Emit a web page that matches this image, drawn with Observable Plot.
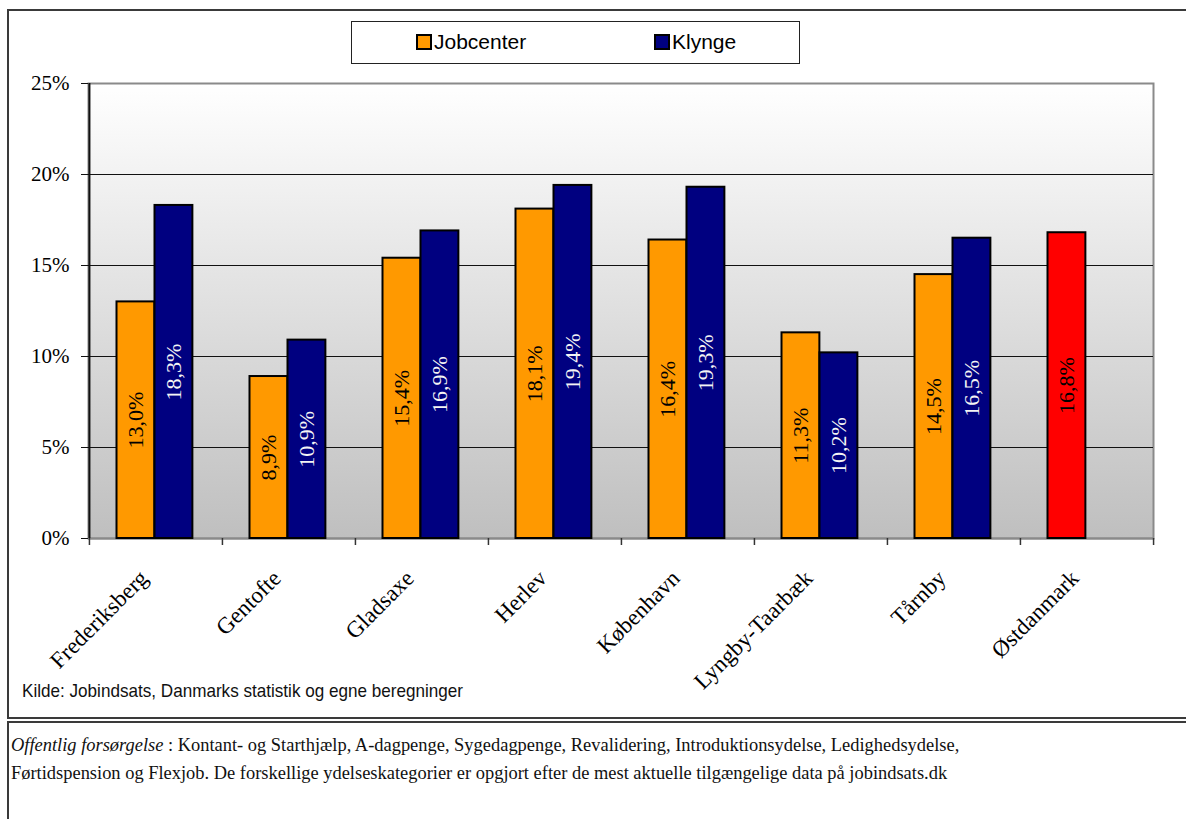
<!DOCTYPE html>
<html>
<head>
<meta charset="utf-8">
<script src="https://cdn.jsdelivr.net/npm/d3@7"></script>
<script src="https://cdn.jsdelivr.net/npm/@observablehq/plot@0.6"></script>
<style>
  html, body { margin: 0; padding: 0; background: #fff; }
  body { width: 1186px; height: 819px; position: relative; overflow: hidden; }
  #box1 { position: absolute; left: 7px; top: 9px; width: 1200px; height: 706px; border: 2px solid #3a3a3a; box-sizing: content-box; }
  #box2 { position: absolute; left: 7px; top: 721px; width: 1200px; height: 120px; border-top: 2px solid #3a3a3a; border-left: 2px solid #3a3a3a; }
  #chart { position: absolute; left: 0; top: 0; }
  #legend { position: absolute; left: 351px; top: 21px; width: 447px; height: 41px; border: 1px solid #222; background: #fff; font-family: "Liberation Sans", Arial, sans-serif; font-size: 21px; color: #000; }
  .item { position: absolute; top: 8px; display: flex; align-items: center; }
  .sw { width: 12px; height: 12px; border: 2px solid #000; margin-right: 2px; }
  #source { position: absolute; left: 22px; top: 680px; font-family: "Liberation Sans", Arial, sans-serif; font-size: 19px; color: #111; transform: scaleX(0.9); transform-origin: 0 0; white-space: nowrap; }
  #note { position: absolute; left: 11px; top: 731px; font-family: "Liberation Serif", "Times New Roman", serif; font-size: 19px; line-height: 28px; color: #111; white-space: nowrap; transform: scaleX(0.97); transform-origin: 0 0; }
</style>
</head>
<body>
<div id="box1"></div>
<div id="box2"></div>
<div id="chart"></div>
<div id="legend"></div>
<div id="source">Kilde: Jobindsats, Danmarks statistik og egne beregninger</div>
<div id="note"><i>Offentlig forsørgelse</i> : Kontant- og Starthjælp, A-dagpenge, Sygedagpenge, Revalidering, Introduktionsydelse, Ledighedsydelse,<br>Førtidspension og Flexjob. De forskellige ydelseskategorier er opgjort efter de mest aktuelle tilgængelige data på jobindsats.dk</div>
<script>
// ---- data ----
const municipalities = ["Frederiksberg", "Gentofte", "Gladsaxe", "Herlev", "København", "Lyngby-Taarbæk", "Tårnby", "Østdanmark"];
const jobcenter = [13.0, 8.9, 15.4, 18.1, 16.4, 11.3, 14.5, 16.8];
const klynge = [18.3, 10.9, 16.9, 19.4, 19.3, 10.2, 16.5, null];
const seriesNames = ["Jobcenter", "Klynge"];
const seriesColors = ["#FF9900", "#000080"];
const totalName = "Østdanmark";
const totalColor = "#FF0000";
const yTicks = [0, 5, 10, 15, 20, 25];

// ---- layout ----
const W = 1186, H = 700;
const mL = 88, mR = 33, mT = 83, mB = 162;
const bw = (W - mL - mR) / municipalities.length;
const barW = 38, off = 27.5;

const rows = [];
municipalities.forEach((m, i) => {
  if (jobcenter[i] != null) rows.push({m, s: seriesNames[0], v: jobcenter[i]});
  if (klynge[i] != null) rows.push({m, s: seriesNames[1], v: klynge[i]});
});
const jc = rows.filter(d => d.s === seriesNames[0]);
const kl = rows.filter(d => d.s === seriesNames[1]);
const fmt = v => v.toFixed(1).replace(".", ",") + "%";
const serif = "Liberation Serif, Times New Roman, serif";

const plot = Plot.plot({
  width: W, height: H,
  marginLeft: mL, marginRight: mR, marginTop: mT, marginBottom: mB,
  style: {fontFamily: serif, color: "#000", background: "transparent", overflow: "visible"},
  x: {type: "band", domain: municipalities, paddingInner: 0, paddingOuter: 0, axis: null},
  y: {domain: [0, 25], axis: null},
  marks: [
    Plot.frame({fill: "url(#bgGrad)", stroke: "#8a8a8a", strokeWidth: 2}),
    Plot.gridY(yTicks.slice(1, -1), {stroke: "#111", strokeOpacity: 1, strokeWidth: 1}),
    Plot.ruleY([0], {stroke: "#8a8a8a", strokeWidth: 2}),
    // left axis line
    Plot.ruleX([municipalities[0]], {x: d => d, dx: -bw / 2, y1: 0, y2: 25, stroke: "#111", strokeWidth: 2}),
    // boundary ticks at category edges
    Plot.ruleX(municipalities, {x: d => d, dx: -bw / 2, y1: 0, y2: 0, insetBottom: -7, stroke: "#333", strokeWidth: 1.5}),
    Plot.ruleX([municipalities[municipalities.length - 1]], {x: d => d, dx: bw / 2, y1: 0, y2: 0, insetBottom: -7, stroke: "#333", strokeWidth: 1.5}),
    // y axis
    Plot.axisY({ticks: yTicks, tickFormat: d => d + "%", label: null, tickSize: 7, tickPadding: 12, fontSize: 21, fontFamily: serif, stroke: "#111"}),
    // bars
    Plot.barY(jc, {x: "m", y: "v", insetLeft: off, insetRight: bw - off - barW,
      fill: d => d.m === totalName ? totalColor : seriesColors[0], stroke: "#000", strokeWidth: 2}),
    Plot.barY(kl, {x: "m", y: "v", insetLeft: off + barW, insetRight: bw - off - 2 * barW,
      fill: seriesColors[1], stroke: "#000", strokeWidth: 2}),
    // value labels
    Plot.text(jc, {x: "m", y: d => d.v / 2, text: d => fmt(d.v), rotate: -90, dx: off + barW / 2 - bw / 2,
      fill: "#000", fontSize: 22, fontFamily: serif}),
    Plot.text(kl, {x: "m", y: d => d.v / 2, text: d => fmt(d.v), rotate: -90, dx: off + 1.5 * barW - bw / 2,
      fill: "#f4f4f4", fontSize: 22, fontFamily: serif}),
    // category labels
    Plot.text(municipalities, {x: d => d, y: 0, text: d => d, rotate: -45, textAnchor: "end",
      dx: -12, dy: 36, fontSize: 23, fontFamily: serif, fill: "#000"})
  ]
});

// gradient definition for the plotting area
const ns = "http://www.w3.org/2000/svg";
const defs = document.createElementNS(ns, "defs");
defs.innerHTML = '<linearGradient id="bgGrad" x1="0" y1="0" x2="0" y2="1">' +
  '<stop offset="0" stop-color="#ffffff"/><stop offset="1" stop-color="#bfbfbf"/></linearGradient>';
plot.insertBefore(defs, plot.firstChild);
document.getElementById("chart").appendChild(plot);

// legend
const legend = document.getElementById("legend");
const lx = [64, 302];
seriesNames.forEach((s, i) => {
  const it = document.createElement("div");
  it.className = "item";
  it.style.left = lx[i] + "px";
  it.innerHTML = `<span class="sw" style="background:${seriesColors[i]}"></span><span>${s}</span>`;
  legend.appendChild(it);
});
</script>
</body>
</html>
